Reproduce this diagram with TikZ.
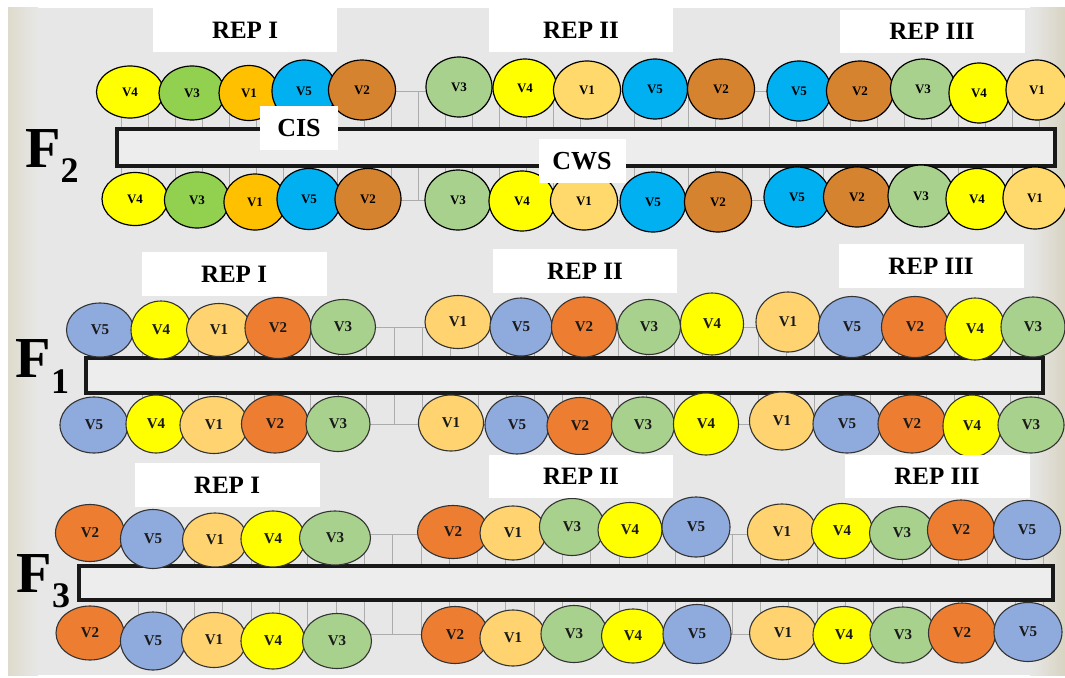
\documentclass[tikz,border=0pt]{standalone}
\usepackage{fontspec}
\setmainfont{Liberation Serif}
\usetikzlibrary{shapes.geometric}
\definecolor{bgc}{HTML}{E7E7E7}
\definecolor{beigeL}{HTML}{DEDBCC}
\definecolor{beigeR}{HTML}{D8D4C2}
\definecolor{barfill}{HTML}{EDEDED}
\definecolor{yel}{HTML}{FFFF00}
\definecolor{grnA}{HTML}{92D050}
\definecolor{orA}{HTML}{FFC000}
\definecolor{bluA}{HTML}{00B0F0}
\definecolor{brn}{HTML}{D5832F}
\definecolor{grnB}{HTML}{A9D18E}
\definecolor{orB}{HTML}{FFD96B}
\definecolor{bluB}{HTML}{8FAADC}
\definecolor{orgC}{HTML}{ED7D31}
\definecolor{orD}{HTML}{FFD470}
\tikzset{
  vel/.style={ellipse, draw=black, line width=1.2pt, inner sep=0pt, font=\bfseries\fontsize{13}{13}\selectfont},
  veltwo/.style={ellipse, draw=black!80, line width=1.1pt, inner sep=0pt, text=black!90, font=\bfseries\fontsize{15}{15}\selectfont},
  repbox/.style={fill=white, inner sep=0pt, font=\bfseries\fontsize{25}{25}\selectfont},
  tagbox/.style={fill=white, inner sep=0pt, font=\bfseries\fontsize{26}{26}\selectfont},
  barstyle/.style={draw=black!90, line width=3.3pt, fill=barfill},
  rung/.style={draw=gray!65, line width=0.9pt},
  inbar/.style={draw=gray!25, line width=0.6pt},
  flabel/.style={anchor=base west, inner sep=0pt, font=\bfseries}
}
\begin{document}
\begin{tikzpicture}[x=1pt,y=-1pt]
\useasboundingbox (0,0) rectangle (1065,677);
% background
\fill[white] (0,0) rectangle (1065,677);
\fill[bgc] (8,8) rectangle (1065,675);
\shade[left color=beigeL, right color=bgc] (8,8) rectangle (38,675);
\shade[left color=bgc, right color=beigeR] (1030,8) rectangle (1065,675);

% ladders F2
\draw[rung] (121,91) -- (1045,91);
\draw[rung] (121,200) -- (1045,200);
\foreach \k in {0,...,34}{
  \draw[rung] ({121+27*\k},91) -- ({121+27*\k},129);
  \draw[rung] ({121+27*\k},166) -- ({121+27*\k},200);
  \draw[inbar] ({121+27*\k},132) -- ({121+27*\k},163);
}
% ladders F1
\draw[rung] (142,327) -- (1035,327);
\draw[rung] (142,424) -- (1035,424);
\foreach \k in {0,...,32}{
  \draw[rung] ({142+28*\k},327) -- ({142+28*\k},358);
  \draw[rung] ({142+28*\k},393) -- ({142+28*\k},424);
  \draw[inbar] ({142+28*\k},361) -- ({142+28*\k},390);
}
% ladders F3
\draw[rung] (138,534) -- (1044,534);
\draw[rung] (138,634) -- (1044,634);
\foreach \k in {0,...,32}{
  \draw[rung] ({138+28.3*\k},534) -- ({138+28.3*\k},566);
  \draw[rung] ({138+28.3*\k},600) -- ({138+28.3*\k},634);
  \draw[inbar] ({138+28.3*\k},569) -- ({138+28.3*\k},597);
}

% bars
\draw[barstyle] (117,129) rectangle (1055,166);
\draw[barstyle] (86,358) rectangle (1043,393);
\draw[barstyle] (79,566) rectangle (1053,600);

% F2 ellipses
\foreach \n/\x/\y/\w/\h/\c/\t in {
 a1/130/92/67/52/yel/V4, a2/192/93/66/54/grnA/V3, a3/249/93/60/55/orA/V1, a4/304/91/64/62/bluA/V5, a5/362/90/67/60/brn/V2,
 a6/459/87/66/60/grnB/V3, a7/525/88/64/58/yel/V4, a8/587/90/67/58/orB/V1, a9/655/89/65/60/bluA/V5, a10/721/89/67/60/brn/V2,
 a11/799/91/64/60/bluA/V5, a12/860/91/67/60/brn/V2, a13/923/89/65/60/grnB/V3, a14/979/93/60/60/yel/V4, a15/1037/90/62/60/orB/V1,
 b1/135/199/66/53/yel/V4, b2/197/200/65/56/grnA/V3, b3/255/202/62/56/orA/V1, b4/309/199/64/61/bluA/V5, b5/368/199/66/61/brn/V2,
 b6/458/200/66/60/grnB/V3, b7/522/201/66/60/yel/V4, b8/584/201/67/58/orB/V1, b9/653/202/66/60/bluA/V5, b10/718/202/67/60/brn/V2,
 b11/797/197/66/60/bluA/V5, b12/857/197/67/60/brn/V2, b13/921/196/66/62/grnB/V3, b14/977/199/62/61/yel/V4, b15/1035/198/64/62/orB/V1}
{\node[vel, fill=\c, minimum width=\w pt, minimum height=\h pt] (\n) at (\x,\y) {\t};}

% F1 and F3 ellipses
\foreach \n/\x/\y/\w/\h/\c/\t in {
 c1/100/330/67/54/bluB/V5, c2/161/330/60/58/yel/V4, c3/219/330/65/53/orD/V1, c4/278/328/66/61/orgC/V2, c5/343/327/65/55/grnB/V3,
 c6/458/322/66/53/orD/V1, c7/521/327/62/58/bluB/V5, c8/584/327/65/60/orgC/V2, c9/649/327/63/55/grnB/V3, c10/712/324/63/62/yel/V4,
 c11/788/322/64/60/orD/V1, c12/852/327/67/61/bluB/V5, c13/915/327/67/61/orgC/V2, c14/975/329/60/62/yel/V4, c15/1033/327/64/60/grnB/V3,
 d1/94/425/68/56/bluB/V5, d2/156/424/60/58/yel/V4, d3/214/425/68/57/orD/V1, d4/275/424/67/58/orgC/V2, d5/338/424/64/55/grnB/V3,
 d6/451/423/65/56/orD/V1, d7/517/425/64/58/bluB/V5, d8/580/426/66/57/orgC/V2, d9/643/425/63/56/grnB/V3, d10/706/424/65/62/yel/V4,
 d11/782/421/65/58/orD/V1, d12/847/424/68/58/bluB/V5, d13/912/424/68/58/orgC/V2, d14/972/426/58/62/yel/V4, d15/1031/425/66/56/grnB/V3,
 e1/90/533/69/57/orgC/V2, e2/153/539/65/59/bluB/V5, e3/215/540/65/54/orD/V1, e4/273/539/64/56/yel/V4, e5/335/538/71/54/grnB/V3,
 e6/453/532/71/53/orgC/V2, e7/513/533/66/54/orD/V1, e8/572/527/65/57/grnB/V3, e9/630/530/64/55/yel/V4, e10/696/527/68/60/bluB/V5,
 e11/782/532/69/56/orD/V1, e12/842/531/61/55/yel/V4, e13/902/533/65/53/grnB/V3, e14/961/530/67/60/orgC/V2, e15/1027/530/67/59/bluB/V5,
 f1/90/633/68/54/orgC/V2, f2/153/641/65/58/bluB/V5, f3/214/640/65/55/orD/V1, f4/273/641/64/56/yel/V4, f5/337/641/69/55/grnB/V3,
 f6/455/635/67/57/orgC/V2, f7/513/638/66/56/orD/V1, f8/574/634/66/57/grnB/V3, f9/633/636/63/54/yel/V4, f10/697/634/68/59/bluB/V5,
 f11/783/633/67/53/orD/V1, f12/844/635/62/57/yel/V4, f13/903/635/66/56/grnB/V3, f14/962/633/67/60/orgC/V2, f15/1028/632/68/59/bluB/V5}
{\node[veltwo, fill=\c, minimum width=\w pt, minimum height=\h pt] (\n) at (\x,\y) {\t};}

% REP boxes
\node[repbox, minimum width=184pt, minimum height=44pt] (r2a) at (245,30) {REP I};
\node[repbox, minimum width=184pt, minimum height=44pt] (r2b) at (581,30) {REP II};
\node[repbox, minimum width=185pt, minimum height=43pt] (r2c) at (932,31.5) {REP III};
\node[repbox, minimum width=185pt, minimum height=44pt] (r1a) at (234,274) {REP I};
\node[repbox, minimum width=184pt, minimum height=44pt] (r1b) at (585,271) {REP II};
\node[repbox, minimum width=185pt, minimum height=44pt] (r1c) at (931,266) {REP III};
\node[repbox, minimum width=185pt, minimum height=44pt] (r3a) at (227,485) {REP I};
\node[repbox, minimum width=184pt, minimum height=43pt] (r3b) at (581,476.5) {REP II};
\node[repbox, minimum width=185pt, minimum height=43pt] (r3c) at (937,476.5) {REP III};

% CIS / CWS
\node[tagbox, minimum width=78pt, minimum height=44pt] (cis) at (299,128) {CIS};
\node[tagbox, minimum width=87pt, minimum height=44pt] (cws) at (582,161) {CWS};

% F labels
\node[flabel] (f2lab) at (25,167) {\fontsize{58}{58}\selectfont F\raisebox{-15pt}{\fontsize{36}{36}\selectfont 2}};
\node[flabel] (f1lab) at (15.5,377) {\fontsize{58}{58}\selectfont F\raisebox{-16pt}{\fontsize{36}{36}\selectfont 1}};
\node[flabel] (f3lab) at (16.5,592) {\fontsize{58}{58}\selectfont F\raisebox{-15pt}{\fontsize{36}{36}\selectfont 3}};
\end{tikzpicture}
\end{document}
